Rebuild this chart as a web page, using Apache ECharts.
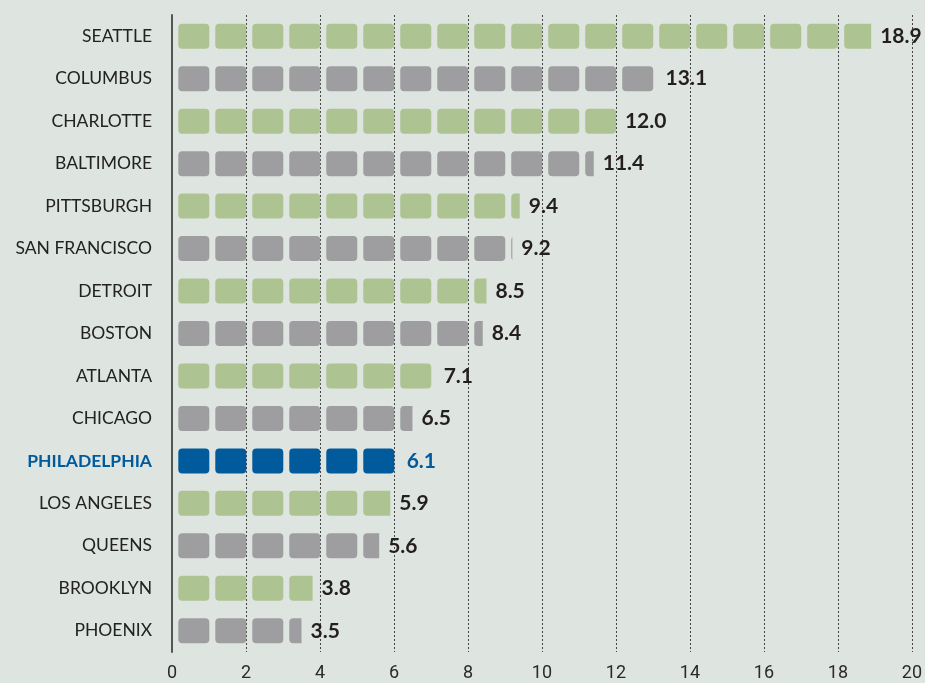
<!DOCTYPE html>
<html>
<head>
<meta charset="utf-8">
<script src="https://cdn.jsdelivr.net/npm/echarts@6/dist/echarts.min.js"></script>
<style>
  html, body { margin: 0; padding: 0; background: #dee4df; }
  #chart { width: 925px; height: 683px; }
</style>
</head>
<body>
<div id="chart"></div>
<script>
// cities, top to bottom
var cities = ['SEATTLE', 'COLUMBUS', 'CHARLOTTE', 'BALTIMORE', 'PITTSBURGH', 'SAN FRANCISCO',
    'DETROIT', 'BOSTON', 'ATLANTA', 'CHICAGO', 'PHILADELPHIA', 'LOS ANGELES', 'QUEENS',
    'BROOKLYN', 'PHOENIX'];
var values = [18.9, 13.1, 12.0, 11.4, 9.4, 9.2, 8.5, 8.4, 7.1, 6.5, 6.1, 5.9, 5.6, 3.8, 3.5];
var xTicks = [0, 2, 4, 6, 8, 10, 12, 14, 16, 18, 20];
var highlight = 'PHILADELPHIA';

var GREEN = '#adc392', GRAY = '#9e9ea0', BLUE = '#005a9c';

// rounded block, 31 x 25
var block = 'path://M4,0 L27,0 Q31,0 31,4 L31,21 Q31,25 27,25 L4,25 Q0,25 0,21 L0,4 Q0,0 4,0 Z';

var blockData = [];
var labelData = [];
var k = 0; // alternate green / gray, skipping the highlighted city
for (var i = 0; i < values.length; i++) {
    var col;
    if (cities[i] === highlight) {
        col = BLUE;
    } else {
        col = k % 2 === 0 ? GREEN : GRAY;
        k++;
    }
    blockData.push({ value: values[i], itemStyle: { color: col } });
    var lbl = { value: values[i] };
    if (cities[i] === highlight) lbl.label = { color: BLUE };
    labelData.push(lbl);
}

var catData = cities.map(function (c) {
    if (c === highlight) return { value: c, textStyle: { color: BLUE, fontWeight: 'bold' } };
    return c;
});

var myChart = echarts.init(document.getElementById('chart'));
var option = {
    backgroundColor: '#dee4df',
    animation: false,
    grid: { left: 172, right: 13, top: 15, bottom: 31 },
    xAxis: {
        type: 'value',
        min: xTicks[0],
        max: xTicks[xTicks.length - 1],
        interval: 2,
        axisLine: { show: false },
        axisTick: { show: false },
        axisLabel: { fontSize: 18, color: '#2a2a2a', margin: 12, fontFamily: 'Roboto' },
        splitLine: { show: true, lineStyle: { color: '#444', width: 1, type: [2, 2] } }
    },
    yAxis: {
        type: 'category',
        inverse: true,
        data: catData,
        axisLine: { show: true, lineStyle: { color: '#555', width: 2 } },
        axisTick: { show: false },
        axisLabel: { margin: 20, fontSize: 17.5, color: '#222', fontFamily: 'Lato' }
    },
    series: [
        {
            type: 'pictorialBar',
            symbol: block,
            symbolSize: [31, 25],
            symbolRepeat: 20,
            symbolMargin: '3!',
            symbolBoundingData: 20,
            symbolClip: true,
            symbolOffset: [3.3, 0],
            data: blockData,
            z: 2
        },
        {
            type: 'bar',
            barWidth: 25,
            silent: true,
            itemStyle: { color: 'rgba(0,0,0,0)' },
            label: {
                show: true,
                position: 'right',
                distance: 9,
                fontSize: 21,
                fontWeight: 'bold',
                fontFamily: 'Lato',
                color: '#231f20',
                formatter: function (p) { return p.value.toFixed(1); }
            },
            data: labelData,
            z: 3
        }
    ]
};
myChart.setOption(option);
</script>
</body>
</html>
